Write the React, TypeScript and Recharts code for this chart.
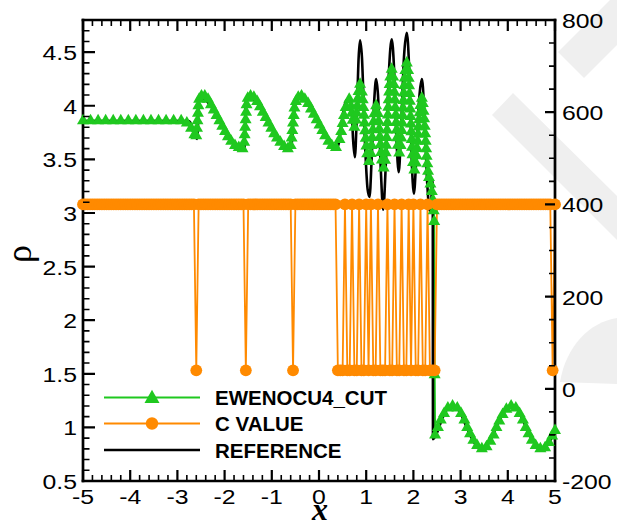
import React from 'react';
import { ComposedChart, Line, XAxis, YAxis } from 'recharts';

const W = 617;
const H = 527;
const GREEN = '#1fc81f';
const ORANGE = '#ff8a00';
const TICK = '#000';
const FONT = '"Liberation Sans", Arial, Helvetica, sans-serif';
const SERIF = '"Liberation Serif", "Times New Roman", serif';

// reference solution (black line): [x, rho]
const refPts: [number, number][] = [
  [-5, 3.857], [-2.76, 3.857], [-2.7, 3.82], [-2.64, 3.75], [-2.58, 3.69], [-2.565, 3.8], [-2.55, 4.06],
  [-2.52, 4.08], [-2.45, 4.07], [-2.35, 4.03], [-2.25, 3.97], [-2.15, 3.9], [-2.05, 3.82], [-1.95, 3.75],
  [-1.85, 3.69], [-1.75, 3.64], [-1.65, 3.61], [-1.58, 3.595], [-1.565, 3.8], [-1.55, 4.05], [-1.5, 4.08],
  [-1.42, 4.07], [-1.32, 4.03], [-1.22, 3.96], [-1.12, 3.89], [-1.02, 3.81], [-0.92, 3.74], [-0.82, 3.68],
  [-0.72, 3.63], [-0.64, 3.6], [-0.6, 3.6], [-0.57, 3.68], [-0.54, 3.88], [-0.5, 4.02], [-0.45, 4.07],
  [-0.38, 4.08], [-0.3, 4.06], [-0.2, 4.0], [-0.1, 3.92], [0.0, 3.84], [0.1, 3.76], [0.2, 3.68],
  [0.28, 3.62], [0.36, 3.595], [0.42, 3.65], [0.48, 3.85], [0.54, 4.0], [0.6, 4.06], [0.65, 4.07],
  [0.69, 4.0], [0.72, 3.7], [0.76, 3.52], [0.8, 3.9], [0.84, 4.45], [0.87, 4.61], [0.91, 4.45],
  [0.97, 3.7], [1.03, 3.22], [1.07, 3.15], [1.12, 3.55], [1.17, 4.05], [1.21, 4.25], [1.25, 4.1],
  [1.31, 3.4], [1.36, 3.03], [1.41, 3.4], [1.48, 4.3], [1.54, 4.62], [1.59, 4.35], [1.64, 3.7],
  [1.69, 3.38], [1.74, 3.8], [1.8, 4.45], [1.86, 4.68], [1.91, 4.35], [1.96, 3.55], [2.01, 3.18],
  [2.06, 3.5], [2.12, 4.05], [2.18, 4.25], [2.23, 3.95], [2.29, 3.3], [2.35, 3.02], [2.38, 3.1],
  [2.395, 3.29], [2.41, 3.29], [2.415, 0.89], [2.5, 0.95], [2.6, 1.07], [2.7, 1.16], [2.8, 1.2],
  [2.9, 1.19], [3.0, 1.13], [3.1, 1.03], [3.2, 0.93], [3.3, 0.85], [3.4, 0.8], [3.5, 0.81],
  [3.6, 0.86], [3.7, 0.95], [3.8, 1.05], [3.9, 1.13], [4.0, 1.19], [4.1, 1.2], [4.2, 1.17],
  [4.3, 1.09], [4.4, 0.99], [4.5, 0.9], [4.6, 0.83], [4.7, 0.8], [4.8, 0.82], [4.9, 0.88], [5.0, 0.97],
];

// EWENOCU4_CUT symbols: [x, rho]
const numPts: [number, number][] = [
  [-5, 3.86], [-4.84, 3.86], [-4.68, 3.86], [-4.52, 3.86], [-4.36, 3.86], [-4.2, 3.86], [-4.04, 3.86],
  [-3.88, 3.86], [-3.72, 3.86], [-3.56, 3.86], [-3.4, 3.86], [-3.24, 3.86], [-3.08, 3.86], [-2.92, 3.86],
  [-2.8, 3.84], [-2.71, 3.79], [-2.64, 3.73], [-2.6, 3.72],
  [-2.585, 3.79], [-2.575, 3.86], [-2.565, 3.93], [-2.555, 4.0], [-2.54, 4.06], [-2.49, 4.09], [-2.42, 4.09],
  [-2.35, 4.06], [-2.29, 4.01], [-2.23, 3.96], [-2.17, 3.91], [-2.11, 3.86], [-2.05, 3.81], [-1.99, 3.76],
  [-1.93, 3.71], [-1.86, 3.67], [-1.78, 3.63], [-1.7, 3.61], [-1.62, 3.6],
  [-1.585, 3.66], [-1.575, 3.73], [-1.565, 3.8], [-1.555, 3.87], [-1.545, 3.94], [-1.535, 4.01], [-1.51, 4.07],
  [-1.45, 4.09], [-1.38, 4.08], [-1.31, 4.04], [-1.25, 3.99], [-1.19, 3.94], [-1.13, 3.89], [-1.07, 3.84],
  [-1.01, 3.79], [-0.95, 3.74], [-0.89, 3.7], [-0.82, 3.66], [-0.74, 3.62], [-0.66, 3.6],
  [-0.6, 3.63], [-0.58, 3.7], [-0.565, 3.77], [-0.55, 3.84], [-0.535, 3.91], [-0.52, 3.98], [-0.49, 4.04],
  [-0.44, 4.08], [-0.37, 4.09], [-0.3, 4.06], [-0.23, 4.02], [-0.17, 3.97], [-0.11, 3.92], [-0.05, 3.87],
  [0.01, 3.82], [0.07, 3.77], [0.13, 3.72], [0.2, 3.67], [0.27, 3.63], [0.36, 3.61],
  [0.435, 3.685], [0.47, 3.76], [0.5, 3.835], [0.53, 3.91], [0.565, 3.985], [0.64, 4.06],
  [0.677, 3.995], [0.695, 3.93], [0.713, 3.865], [0.75, 3.8],
  [0.782, 3.867], [0.797, 3.933], [0.81, 4.0], [0.823, 4.067], [0.838, 4.133], [0.87, 4.2],
  [0.909, 4.128], [0.926, 4.056], [0.94, 3.984], [0.953, 3.912], [0.965, 3.84], [0.977, 3.768],
  [0.99, 3.696], [1.004, 3.624], [1.021, 3.552], [1.06, 3.48],
  [1.097, 3.554], [1.114, 3.629], [1.128, 3.703], [1.142, 3.777], [1.156, 3.851], [1.173, 3.926], [1.21, 4.0],
  [1.247, 3.928], [1.263, 3.855], [1.277, 3.783], [1.29, 3.71], [1.303, 3.638], [1.317, 3.565],
  [1.333, 3.493], [1.37, 3.42],
  [1.4, 3.491], [1.414, 3.562], [1.424, 3.632], [1.434, 3.703], [1.442, 3.774], [1.451, 3.845],
  [1.459, 3.915], [1.468, 3.986], [1.476, 4.057], [1.486, 4.128], [1.496, 4.198], [1.51, 4.269], [1.54, 4.34],
  [1.571, 4.269], [1.585, 4.198], [1.596, 4.127], [1.606, 4.056], [1.615, 3.985], [1.625, 3.915],
  [1.634, 3.844], [1.644, 3.773], [1.655, 3.702], [1.669, 3.631], [1.7, 3.56],
  [1.73, 3.63], [1.743, 3.7], [1.753, 3.77], [1.763, 3.84], [1.772, 3.91], [1.78, 3.98], [1.788, 4.05],
  [1.797, 4.12], [1.807, 4.19], [1.817, 4.26], [1.83, 4.33], [1.86, 4.4],
  [1.888, 4.329], [1.9, 4.257], [1.909, 4.186], [1.917, 4.114], [1.925, 4.043], [1.933, 3.971],
  [1.94, 3.9], [1.947, 3.829], [1.955, 3.757], [1.963, 3.686], [1.971, 3.614], [1.98, 3.543],
  [1.992, 3.471], [2.02, 3.4],
  [2.053, 3.467], [2.067, 3.534], [2.079, 3.601], [2.09, 3.668], [2.1, 3.735], [2.11, 3.802],
  [2.121, 3.869], [2.133, 3.936], [2.147, 4.003], [2.18, 4.07],
  [2.2, 4.02], [2.215, 3.95], [2.228, 3.88], [2.24, 3.81], [2.25, 3.74], [2.26, 3.67], [2.27, 3.6],
  [2.28, 3.53], [2.295, 3.46], [2.31, 3.39], [2.33, 3.33], [2.36, 3.27], [2.39, 3.2], [2.415, 3.12],
  [2.43, 3.02], [2.44, 2.92], [2.45, 1.49], [2.46, 0.93],
  [2.52, 1.0], [2.58, 1.07], [2.65, 1.13], [2.73, 1.18], [2.83, 1.2], [2.93, 1.18], [3.01, 1.13],
  [3.08, 1.07], [3.14, 1.0], [3.2, 0.94], [3.27, 0.88], [3.35, 0.83], [3.45, 0.8], [3.55, 0.82],
  [3.63, 0.87], [3.7, 0.93], [3.76, 1.0], [3.82, 1.06], [3.89, 1.12], [3.97, 1.17], [4.07, 1.2],
  [4.17, 1.18], [4.25, 1.13], [4.32, 1.07], [4.38, 1.0], [4.44, 0.94], [4.51, 0.88], [4.59, 0.83],
  [4.69, 0.8], [4.79, 0.81], [4.87, 0.86], [4.94, 0.92], [5.0, 0.97],
];

// C VALUE on the cell grid (right axis)
const cGridStart = -5;
const cGridStep = 0.05;
const cGridCount = 201;
const cHigh = 400;
const cLow = 40;
const cLowX = [
  -2.6, -1.55, -0.55, 0.4, 0.45, 0.5, 0.6, 0.65, 0.75, 0.8, 0.9, 0.95, 1.05, 1.15, 1.2, 1.3, 1.35,
  1.4, 1.5, 1.55, 1.65, 1.7, 1.8, 1.85, 1.95, 2.05, 2.1, 2.2, 2.25, 2.35, 2.4, 2.45, 4.95,
];

// ticks
const xMajor = [-5, -4, -3, -2, -1, 0, 1, 2, 3, 4, 5];
const rhoMajor = [0.5, 1, 1.5, 2, 2.5, 3, 3.5, 4, 4.5];
const cMajor = [-200, 0, 200, 400, 600, 800];

const X_DOM: [number, number] = [-5, 5];
const RHO_DOM: [number, number] = [0.5, 4.8];
const C_DOM: [number, number] = [-200, 800];

// plot box (set by the chart margins and axis sizes below)
const BOX = { left: 83, right: 555, top: 20, bottom: 481 };

const steps = (a: number, b: number, s: number) => {
  const out: number[] = [];
  for (let v = a; v <= b + s / 2; v += s) out.push(Math.round(v * 1000) / 1000);
  return out;
};
const xTicks = steps(-5, 5, 0.2);
const rhoTicks = steps(0.5, 4.8, 0.1);
const cTicks = steps(-200, 800, 50);

const refData = refPts.map(([x, y]) => ({ x, y }));
const numData = numPts.map(([x, y]) => ({ x, y }));
const cData = Array.from({ length: cGridCount }, (_, i) => {
  const x = Math.round((cGridStart + i * cGridStep) * 100) / 100;
  const low = cLowX.some((v) => Math.abs(v - x) < 1e-6);
  return { x, y: low ? cLow : cHigh };
});

const isMajor = (v: number, list: number[]) => list.some((m) => Math.abs(m - v) < 1e-6);

const TickText = ({ x, y, anchor, children }: any) => (
  <text
    transform={`translate(${x},${y}) scale(1.18,1)`}
    textAnchor={anchor}
    fontFamily={FONT}
    fontSize={21}
    fill="#000"
  >
    {children}
  </text>
);

const BottomTick = (p: any) => {
  const v = p.payload.value;
  if (!isMajor(v, xMajor)) return <g />;
  return <TickText x={p.x} y={p.y + 23} anchor="middle">{String(v)}</TickText>;
};

const LeftTick = (p: any) => {
  const v = p.payload.value;
  if (!isMajor(v, rhoMajor)) return <g />;
  return <TickText x={p.x - 6} y={p.y + 8} anchor="end">{String(v)}</TickText>;
};

const RightTick = (p: any) => {
  const v = p.payload.value;
  if (!isMajor(v, cMajor)) return <g />;
  return <TickText x={p.x + 7} y={p.y + 8} anchor="start">{String(v)}</TickText>;
};

const triPath = (cx: number, cy: number, hw: number, up: number, down: number) =>
  `M${cx},${cy - up}L${cx + hw},${cy + down}L${cx - hw},${cy + down}Z`;

const TriDot = (p: any) => {
  if (p.cx == null || p.cy == null) return <g key={`t-${p.index}`} />;
  return <path key={`t-${p.index}`} d={triPath(p.cx, p.cy, 6, 7, 3.5)} fill={GREEN} />;
};

const CircleDot = (p: any) => {
  if (p.cx == null || p.cy == null) return <g key={`c-${p.index}`} />;
  return <circle key={`c-${p.index}`} cx={p.cx} cy={p.cy} r={5.9} fill={ORANGE} />;
};

const axisLine = { stroke: '#000', strokeWidth: 2.7, strokeLinecap: 'square' as const };

// inward tick marks for the frame
const lin = (v: number, d: [number, number], a: number, b: number) => a + ((v - d[0]) / (d[1] - d[0])) * (b - a);
const tickPath = (major: boolean) => {
  let d = '';
  xTicks.forEach((v) => {
    if (isMajor(v, xMajor) !== major) return;
    const px = lin(v, X_DOM, BOX.left, BOX.right);
    const len = major ? 11 : 6;
    d += `M${px},${BOX.bottom}v-${len}M${px},${BOX.top}v${len}`;
  });
  rhoTicks.forEach((v) => {
    if (isMajor(v, rhoMajor) !== major) return;
    const py = lin(v, RHO_DOM, BOX.bottom, BOX.top);
    d += `M${BOX.left},${py}h${major ? 12 : 6.5}`;
  });
  cTicks.forEach((v) => {
    if (isMajor(v, cMajor) !== major) return;
    const py = lin(v, C_DOM, BOX.bottom, BOX.top);
    d += `M${BOX.right},${py}h-${major ? 10 : 6}`;
  });
  return d;
};

export default function App() {
  return (
    <div style={{ position: 'absolute', left: 0, top: 0, width: W, height: H, background: '#fff' }}>
      <svg width={W} height={H} style={{ position: 'absolute', left: 0, top: 0 }}>
        <path d="M558,52 L610,0 L617,0 L617,45 L584,78 Z" fill="#efefef" />
        <path d="M492,115 L513,93 L617,196 L617,240 Z" fill="#efefef" />
        <path d="M617,318 C590,322 566,346 560,382 L617,384 Z" fill="#efefef" />
      </svg>
      <div style={{ position: 'absolute', left: 0, top: 0 }}>
        <ComposedChart width={W} height={H} margin={{ top: BOX.top - 1, right: 0, bottom: 0, left: 0 }}>
          <XAxis
            xAxisId="b"
            type="number"
            dataKey="x"
            domain={X_DOM}
            ticks={xTicks}
            interval={0}
            height={H - BOX.bottom}
            tickSize={0}
            tickMargin={0}
            tickLine={false}
            axisLine={axisLine}
            tick={BottomTick}
          />
          <XAxis
            xAxisId="t"
            orientation="top"
            type="number"
            dataKey="x"
            domain={X_DOM}
            ticks={xMajor}
            interval={0}
            height={1}
            tickSize={0}
            tickMargin={0}
            tickLine={false}
            axisLine={axisLine}
            tick={false}
          />
          <YAxis
            yAxisId="l"
            type="number"
            domain={RHO_DOM}
            ticks={rhoTicks}
            interval={0}
            width={BOX.left}
            tickSize={0}
            tickMargin={0}
            tickLine={false}
            axisLine={axisLine}
            tick={LeftTick}
          />
          <YAxis
            yAxisId="r"
            orientation="right"
            type="number"
            domain={C_DOM}
            ticks={cTicks}
            interval={0}
            width={W - BOX.right}
            tickSize={0}
            tickMargin={0}
            tickLine={false}
            axisLine={axisLine}
            tick={RightTick}
          />
          <Line
            xAxisId="b"
            yAxisId="l"
            data={numData}
            dataKey="y"
            type="linear"
            stroke={GREEN}
            strokeWidth={2}
            dot={TriDot}
            activeDot={false}
            isAnimationActive={false}
          />
          <Line
            xAxisId="b"
            yAxisId="r"
            data={cData}
            dataKey="y"
            type="linear"
            stroke={ORANGE}
            strokeWidth={1.8}
            dot={CircleDot}
            activeDot={false}
            isAnimationActive={false}
          />
          <Line
            xAxisId="b"
            yAxisId="l"
            data={refData}
            dataKey="y"
            type="monotone"
            stroke="#000"
            strokeWidth={2.6}
            dot={false}
            activeDot={false}
            isAnimationActive={false}
          />
        </ComposedChart>
      </div>
      <svg width={W} height={H} style={{ position: 'absolute', left: 0, top: 0, pointerEvents: 'none' }}>
        <path d={tickPath(true)} stroke={TICK} strokeWidth={2.2} fill="none" />
        <path d={tickPath(false)} stroke={TICK} strokeWidth={1.6} fill="none" />
        <g fontFamily={FONT} fontWeight="bold" fontSize={20.5} fill="#000">
          <line x1={104} x2={200} y1={397.5} y2={397.5} stroke={GREEN} strokeWidth={2} />
          <path d={triPath(152, 397.5, 7.5, 7.7, 5.6)} fill={GREEN} />
          <text x={215} y={404.5}>EWENOCU4_CUT</text>
          <line x1={104} x2={200} y1={423.5} y2={423.5} stroke={ORANGE} strokeWidth={2} />
          <circle cx={152} cy={423.5} r={6.2} fill={ORANGE} />
          <text x={215} y={431}>C VALUE</text>
          <line x1={104} x2={200} y1={450} y2={450} stroke="#000" strokeWidth={2.6} />
          <text x={215} y={457.5}>REFERENCE</text>
        </g>
        <text x={320} y={520} textAnchor="middle" fontFamily={SERIF} fontStyle="italic" fontWeight="bold" fontSize={32}>
          x
        </text>
        <text transform="translate(31,254) rotate(-90)" textAnchor="middle" fontFamily={SERIF} fontSize={36}>
          ρ
        </text>
      </svg>
    </div>
  );
}
